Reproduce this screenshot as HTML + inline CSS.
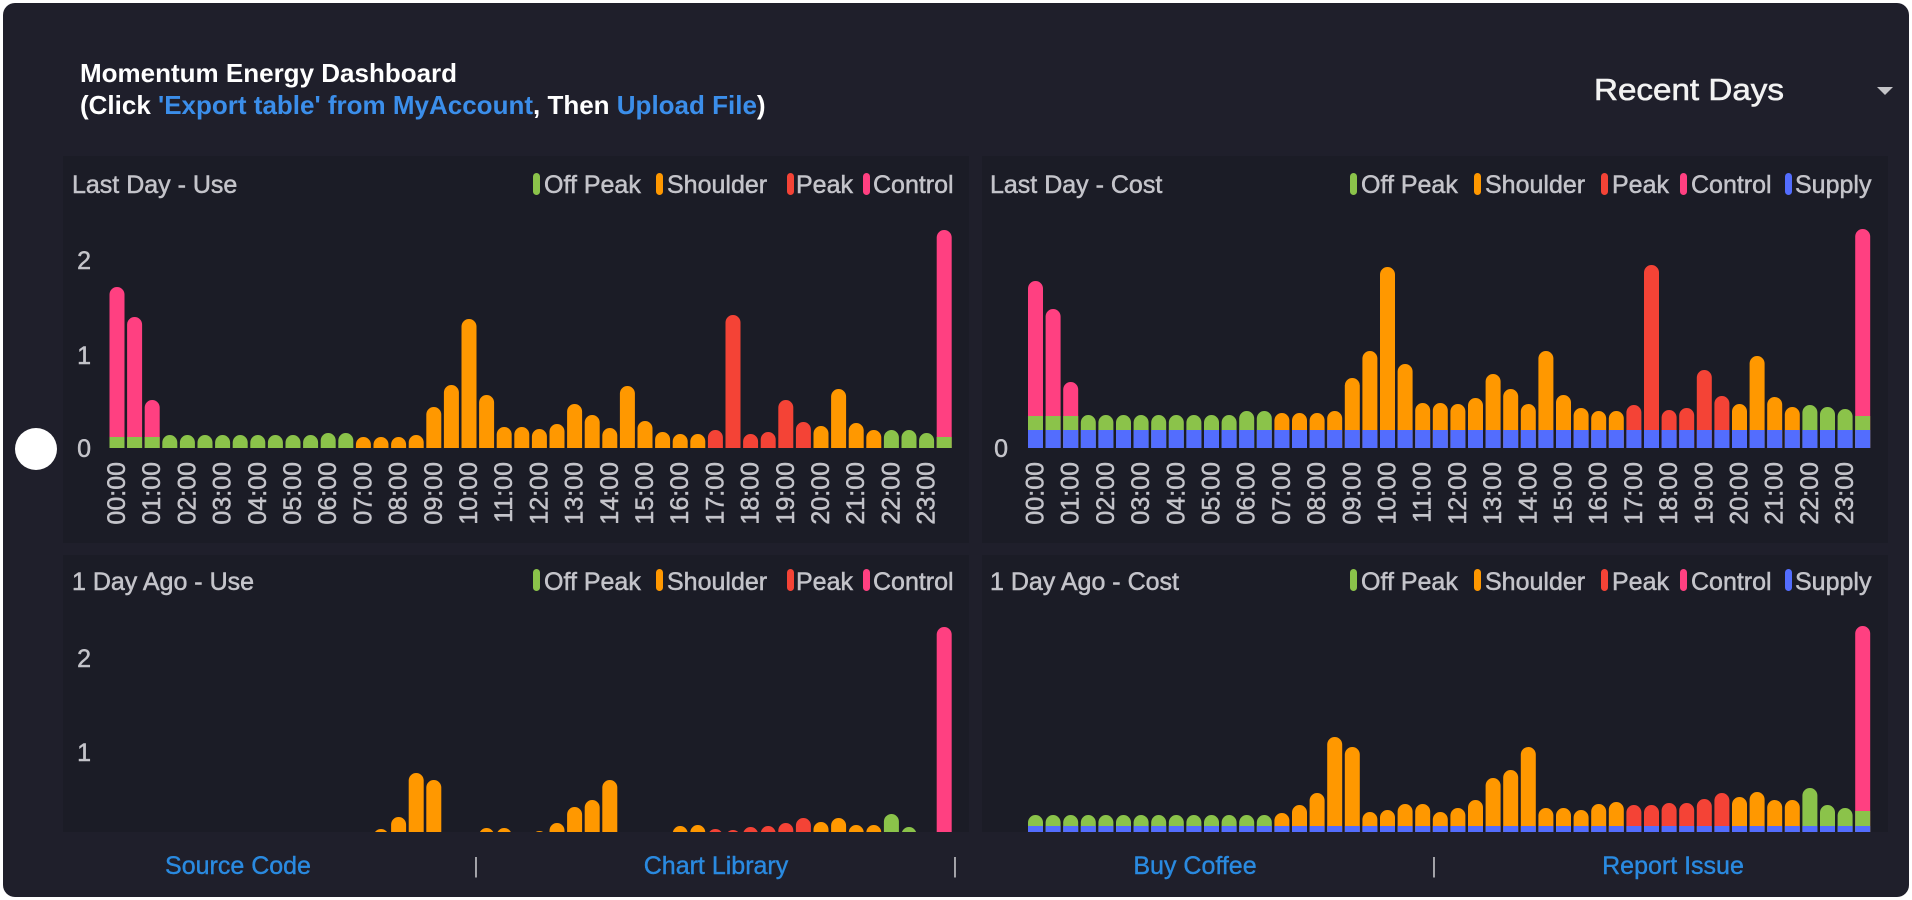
<!DOCTYPE html>
<html>
<head>
<meta charset="utf-8">
<style>
html,body{margin:0;padding:0;background:#fff;width:1912px;height:900px;overflow:hidden;}
svg{display:block;}
text{font-family:"Liberation Sans",Arial,sans-serif;}
.g{fill:#8bc34a}.o{fill:#ff9800}.r{fill:#f44336}.p{fill:#ff4081}.b{fill:#536dfe}
.lbl{font-size:25px;fill:#c4c4ca;stroke:#c4c4ca;stroke-width:0.5px;}
.xl text{font-size:25px;fill:#c4c4ca;stroke:#c4c4ca;stroke-width:0.5px;text-anchor:end;dominant-baseline:central;}
.ft{font-size:25px;fill:#2a8ae0;stroke:#2a8ae0;stroke-width:0.4px;text-anchor:middle;}
.sep{font-size:22px;fill:#b0b0b6;text-anchor:middle;}
</style>
</head>
<body>
<svg width="1912" height="900" viewBox="0 0 1912 900" xmlns="http://www.w3.org/2000/svg">
<defs>
<clipPath id="ct"><rect x="-20" y="-400" width="900" height="400"/></clipPath>
<clipPath id="cb"><rect x="-20" y="-400" width="900" height="386"/></clipPath>
</defs>
<rect x="0" y="0" width="1912" height="900" fill="#ffffff"/>
<rect x="3" y="3" width="1906" height="894" rx="12" fill="#1f1f2b"/>

<!-- header -->
<text x="80" y="82" font-size="26" font-weight="bold" fill="#ffffff">Momentum Energy Dashboard</text>
<text x="80" y="114" font-size="26" font-weight="bold" fill="#ffffff">(Click <tspan fill="#3b8eea">'Export table' from MyAccount</tspan>, Then <tspan fill="#3b8eea">Upload File</tspan>)</text>
<text x="1594" y="100" font-size="31" fill="#f2f2f2" stroke="#f2f2f2" stroke-width="0.6" textLength="190" lengthAdjust="spacingAndGlyphs">Recent Days</text>
<polygon points="1877,87 1893,87 1885,95" fill="#c4c4c8"/>

<!-- panels -->
<rect x="63" y="156" width="906" height="387" fill="#1b1c26"/>
<rect x="982" y="156" width="906" height="387" fill="#1b1c26"/>
<rect x="63" y="555" width="906" height="277" fill="#1b1c26"/>
<rect x="982" y="555" width="906" height="277" fill="#1b1c26"/>

<!-- panel titles -->
<text class="lbl" x="72" y="193">Last Day - Use</text>
<text class="lbl" x="990" y="193">Last Day - Cost</text>
<text class="lbl" x="72" y="590">1 Day Ago - Use</text>
<text class="lbl" x="990" y="590">1 Day Ago - Cost</text>

<!-- legends -->
<g>
<rect class="g" x="533" y="173" width="7" height="22" rx="3.5"/><text class="lbl" x="544" y="193">Off Peak</text>
<rect class="o" x="656" y="173" width="7" height="22" rx="3.5"/><text class="lbl" x="667" y="193">Shoulder</text>
<rect class="r" x="787" y="173" width="7" height="22" rx="3.5"/><text class="lbl" x="796" y="193">Peak</text>
<rect class="p" x="863" y="173" width="7" height="22" rx="3.5"/><text class="lbl" x="873" y="193">Control</text>
</g>
<g>
<rect class="g" x="1350" y="173" width="7" height="22" rx="3.5"/><text class="lbl" x="1361" y="193">Off Peak</text>
<rect class="o" x="1474" y="173" width="7" height="22" rx="3.5"/><text class="lbl" x="1485" y="193">Shoulder</text>
<rect class="r" x="1601" y="173" width="7" height="22" rx="3.5"/><text class="lbl" x="1612" y="193">Peak</text>
<rect class="p" x="1680" y="173" width="7" height="22" rx="3.5"/><text class="lbl" x="1691" y="193">Control</text>
<rect class="b" x="1785" y="173" width="7" height="22" rx="3.5"/><text class="lbl" x="1795" y="193">Supply</text>
</g>
<g>
<rect class="g" x="533" y="569" width="7" height="22" rx="3.5"/><text class="lbl" x="544" y="590">Off Peak</text>
<rect class="o" x="656" y="569" width="7" height="22" rx="3.5"/><text class="lbl" x="667" y="590">Shoulder</text>
<rect class="r" x="787" y="569" width="7" height="22" rx="3.5"/><text class="lbl" x="796" y="590">Peak</text>
<rect class="p" x="863" y="569" width="7" height="22" rx="3.5"/><text class="lbl" x="873" y="590">Control</text>
</g>
<g>
<rect class="g" x="1350" y="569" width="7" height="22" rx="3.5"/><text class="lbl" x="1361" y="590">Off Peak</text>
<rect class="o" x="1474" y="569" width="7" height="22" rx="3.5"/><text class="lbl" x="1485" y="590">Shoulder</text>
<rect class="r" x="1601" y="569" width="7" height="22" rx="3.5"/><text class="lbl" x="1612" y="590">Peak</text>
<rect class="p" x="1680" y="569" width="7" height="22" rx="3.5"/><text class="lbl" x="1691" y="590">Control</text>
<rect class="b" x="1785" y="569" width="7" height="22" rx="3.5"/><text class="lbl" x="1795" y="590">Supply</text>
</g>

<!-- y ticks -->
<text class="lbl" x="91" y="269" text-anchor="end">2</text>
<text class="lbl" x="91" y="364" text-anchor="end">1</text>
<text class="lbl" x="91" y="457" text-anchor="end">0</text>
<text class="lbl" x="1008" y="457" text-anchor="end">0</text>
<text class="lbl" x="91" y="667" text-anchor="end">2</text>
<text class="lbl" x="91" y="761" text-anchor="end">1</text>

<!-- TL bars -->
<g transform="translate(109.5,448)"><g clip-path="url(#ct)">
<rect class="p" x="0" y="-161" width="15" height="169" rx="7.5"/><rect class="g" x="0" y="-11" width="15" height="19"/>
<rect class="p" x="17.6" y="-131" width="15" height="139" rx="7.5"/><rect class="g" x="17.6" y="-11" width="15" height="19"/>
<rect class="p" x="35.2" y="-48" width="15" height="56" rx="7.5"/><rect class="g" x="35.2" y="-11" width="15" height="19"/>
<rect class="g" x="52.8" y="-13" width="15" height="21" rx="7.5"/>
<rect class="g" x="70.4" y="-13" width="15" height="21" rx="7.5"/>
<rect class="g" x="88" y="-13" width="15" height="21" rx="7.5"/>
<rect class="g" x="105.6" y="-13" width="15" height="21" rx="7.5"/>
<rect class="g" x="123.2" y="-13" width="15" height="21" rx="7.5"/>
<rect class="g" x="140.8" y="-13" width="15" height="21" rx="7.5"/>
<rect class="g" x="158.4" y="-13" width="15" height="21" rx="7.5"/>
<rect class="g" x="176" y="-13" width="15" height="21" rx="7.5"/>
<rect class="g" x="193.6" y="-13" width="15" height="21" rx="7.5"/>
<rect class="g" x="211.2" y="-15" width="15" height="23" rx="7.5"/>
<rect class="g" x="228.8" y="-15" width="15" height="23" rx="7.5"/>
<rect class="o" x="246.4" y="-11" width="15" height="19" rx="7.5"/>
<rect class="o" x="264" y="-11" width="15" height="19" rx="7.5"/>
<rect class="o" x="281.6" y="-11" width="15" height="19" rx="7.5"/>
<rect class="o" x="299.2" y="-13" width="15" height="21" rx="7.5"/>
<rect class="o" x="316.8" y="-41" width="15" height="49" rx="7.5"/>
<rect class="o" x="334.4" y="-63" width="15" height="71" rx="7.5"/>
<rect class="o" x="352" y="-129" width="15" height="137" rx="7.5"/>
<rect class="o" x="369.6" y="-53" width="15" height="61" rx="7.5"/>
<rect class="o" x="387.2" y="-21" width="15" height="29" rx="7.5"/>
<rect class="o" x="404.8" y="-21" width="15" height="29" rx="7.5"/>
<rect class="o" x="422.4" y="-19" width="15" height="27" rx="7.5"/>
<rect class="o" x="440" y="-24" width="15" height="32" rx="7.5"/>
<rect class="o" x="457.6" y="-44" width="15" height="52" rx="7.5"/>
<rect class="o" x="475.2" y="-33" width="15" height="41" rx="7.5"/>
<rect class="o" x="492.8" y="-20" width="15" height="28" rx="7.5"/>
<rect class="o" x="510.4" y="-62" width="15" height="70" rx="7.5"/>
<rect class="o" x="528" y="-27" width="15" height="35" rx="7.5"/>
<rect class="o" x="545.6" y="-16" width="15" height="24" rx="7.5"/>
<rect class="o" x="563.2" y="-14" width="15" height="22" rx="7.5"/>
<rect class="o" x="580.8" y="-14" width="15" height="22" rx="7.5"/>
<rect class="r" x="598.4" y="-18" width="15" height="26" rx="7.5"/>
<rect class="r" x="616" y="-133" width="15" height="141" rx="7.5"/>
<rect class="r" x="633.6" y="-14" width="15" height="22" rx="7.5"/>
<rect class="r" x="651.2" y="-16" width="15" height="24" rx="7.5"/>
<rect class="r" x="668.8" y="-48" width="15" height="56" rx="7.5"/>
<rect class="r" x="686.4" y="-26" width="15" height="34" rx="7.5"/>
<rect class="o" x="704" y="-22" width="15" height="30" rx="7.5"/>
<rect class="o" x="721.6" y="-59" width="15" height="67" rx="7.5"/>
<rect class="o" x="739.2" y="-25" width="15" height="33" rx="7.5"/>
<rect class="o" x="756.8" y="-18" width="15" height="26" rx="7.5"/>
<rect class="g" x="774.4" y="-18" width="15" height="26" rx="7.5"/>
<rect class="g" x="792" y="-18" width="15" height="26" rx="7.5"/>
<rect class="g" x="809.6" y="-15" width="15" height="23" rx="7.5"/>
<rect class="p" x="827.2" y="-218" width="15" height="226" rx="7.5"/><rect class="g" x="827.2" y="-11" width="15" height="19"/>
</g></g>

<!-- TR bars -->
<g transform="translate(1028,448)"><g clip-path="url(#ct)">
<rect class="p" x="0" y="-167" width="15" height="175" rx="7.5"/><rect class="g" x="0" y="-32" width="15" height="40"/>
<rect class="p" x="17.6" y="-139" width="15" height="147" rx="7.5"/><rect class="g" x="17.6" y="-32" width="15" height="40"/>
<rect class="p" x="35.2" y="-66" width="15" height="74" rx="7.5"/><rect class="g" x="35.2" y="-32" width="15" height="40"/>
<rect class="g" x="52.8" y="-33" width="15" height="41" rx="7.5"/>
<rect class="g" x="70.4" y="-33" width="15" height="41" rx="7.5"/>
<rect class="g" x="88" y="-33" width="15" height="41" rx="7.5"/>
<rect class="g" x="105.6" y="-33" width="15" height="41" rx="7.5"/>
<rect class="g" x="123.2" y="-33" width="15" height="41" rx="7.5"/>
<rect class="g" x="140.8" y="-33" width="15" height="41" rx="7.5"/>
<rect class="g" x="158.4" y="-33" width="15" height="41" rx="7.5"/>
<rect class="g" x="176" y="-33" width="15" height="41" rx="7.5"/>
<rect class="g" x="193.6" y="-33" width="15" height="41" rx="7.5"/>
<rect class="g" x="211.2" y="-37" width="15" height="45" rx="7.5"/>
<rect class="g" x="228.8" y="-37" width="15" height="45" rx="7.5"/>
<rect class="o" x="246.4" y="-35" width="15" height="43" rx="7.5"/>
<rect class="o" x="264" y="-35" width="15" height="43" rx="7.5"/>
<rect class="o" x="281.6" y="-35" width="15" height="43" rx="7.5"/>
<rect class="o" x="299.2" y="-37" width="15" height="45" rx="7.5"/>
<rect class="o" x="316.8" y="-70" width="15" height="78" rx="7.5"/>
<rect class="o" x="334.4" y="-97" width="15" height="105" rx="7.5"/>
<rect class="o" x="352" y="-181" width="15" height="189" rx="7.5"/>
<rect class="o" x="369.6" y="-84" width="15" height="92" rx="7.5"/>
<rect class="o" x="387.2" y="-45" width="15" height="53" rx="7.5"/>
<rect class="o" x="404.8" y="-45" width="15" height="53" rx="7.5"/>
<rect class="o" x="422.4" y="-44" width="15" height="52" rx="7.5"/>
<rect class="o" x="440" y="-50" width="15" height="58" rx="7.5"/>
<rect class="o" x="457.6" y="-74" width="15" height="82" rx="7.5"/>
<rect class="o" x="475.2" y="-59" width="15" height="67" rx="7.5"/>
<rect class="o" x="492.8" y="-44" width="15" height="52" rx="7.5"/>
<rect class="o" x="510.4" y="-97" width="15" height="105" rx="7.5"/>
<rect class="o" x="528" y="-53" width="15" height="61" rx="7.5"/>
<rect class="o" x="545.6" y="-40" width="15" height="48" rx="7.5"/>
<rect class="o" x="563.2" y="-37" width="15" height="45" rx="7.5"/>
<rect class="o" x="580.8" y="-37" width="15" height="45" rx="7.5"/>
<rect class="r" x="598.4" y="-43" width="15" height="51" rx="7.5"/>
<rect class="r" x="616" y="-183" width="15" height="191" rx="7.5"/>
<rect class="r" x="633.6" y="-38" width="15" height="46" rx="7.5"/>
<rect class="r" x="651.2" y="-40" width="15" height="48" rx="7.5"/>
<rect class="r" x="668.8" y="-78" width="15" height="86" rx="7.5"/>
<rect class="r" x="686.4" y="-52" width="15" height="60" rx="7.5"/>
<rect class="o" x="704" y="-44" width="15" height="52" rx="7.5"/>
<rect class="o" x="721.6" y="-92" width="15" height="100" rx="7.5"/>
<rect class="o" x="739.2" y="-51" width="15" height="59" rx="7.5"/>
<rect class="o" x="756.8" y="-41" width="15" height="49" rx="7.5"/>
<rect class="g" x="774.4" y="-43" width="15" height="51" rx="7.5"/>
<rect class="g" x="792" y="-41" width="15" height="49" rx="7.5"/>
<rect class="g" x="809.6" y="-39" width="15" height="47" rx="7.5"/>
<rect class="p" x="827.2" y="-219" width="15" height="227" rx="7.5"/><rect class="g" x="827.2" y="-32" width="15" height="40"/>
<line x1="0" y1="-9" x2="842.2" y2="-9" stroke="#536dfe" stroke-width="18" stroke-dasharray="15 2.6"/>
</g></g>

<!-- BL bars -->
<g transform="translate(109.5,846)"><g clip-path="url(#cb)">
<rect class="o" x="264" y="-17" width="15" height="25" rx="7.5"/>
<rect class="o" x="281.6" y="-29" width="15" height="37" rx="7.5"/>
<rect class="o" x="299.2" y="-73" width="15" height="81" rx="7.5"/>
<rect class="o" x="316.8" y="-66" width="15" height="74" rx="7.5"/>
<rect class="o" x="369.6" y="-18" width="15" height="26" rx="7.5"/>
<rect class="o" x="387.2" y="-18" width="15" height="26" rx="7.5"/>
<rect class="o" x="422.4" y="-15" width="15" height="23" rx="7.5"/>
<rect class="o" x="440" y="-23" width="15" height="31" rx="7.5"/>
<rect class="o" x="457.6" y="-39" width="15" height="47" rx="7.5"/>
<rect class="o" x="475.2" y="-46" width="15" height="54" rx="7.5"/>
<rect class="o" x="492.8" y="-66" width="15" height="74" rx="7.5"/>
<rect class="o" x="563.2" y="-20" width="15" height="28" rx="7.5"/>
<rect class="o" x="580.8" y="-21" width="15" height="29" rx="7.5"/>
<rect class="r" x="598.4" y="-17" width="15" height="25" rx="7.5"/>
<rect class="r" x="616" y="-16" width="15" height="24" rx="7.5"/>
<rect class="r" x="633.6" y="-19" width="15" height="27" rx="7.5"/>
<rect class="r" x="651.2" y="-20" width="15" height="28" rx="7.5"/>
<rect class="r" x="668.8" y="-23" width="15" height="31" rx="7.5"/>
<rect class="r" x="686.4" y="-28" width="15" height="36" rx="7.5"/>
<rect class="o" x="704" y="-24" width="15" height="32" rx="7.5"/>
<rect class="o" x="721.6" y="-28" width="15" height="36" rx="7.5"/>
<rect class="o" x="739.2" y="-21" width="15" height="29" rx="7.5"/>
<rect class="o" x="756.8" y="-21" width="15" height="29" rx="7.5"/>
<rect class="g" x="774.4" y="-32" width="15" height="40" rx="7.5"/>
<rect class="g" x="792" y="-19" width="15" height="27" rx="7.5"/>
<rect class="p" x="827.2" y="-219" width="15" height="227" rx="7.5"/>
</g></g>

<!-- BR bars -->
<g transform="translate(1028,846)"><g clip-path="url(#cb)">
<rect class="g" x="0" y="-31" width="15" height="39" rx="7.5"/>
<rect class="g" x="17.6" y="-31" width="15" height="39" rx="7.5"/>
<rect class="g" x="35.2" y="-31" width="15" height="39" rx="7.5"/>
<rect class="g" x="52.8" y="-31" width="15" height="39" rx="7.5"/>
<rect class="g" x="70.4" y="-31" width="15" height="39" rx="7.5"/>
<rect class="g" x="88" y="-31" width="15" height="39" rx="7.5"/>
<rect class="g" x="105.6" y="-31" width="15" height="39" rx="7.5"/>
<rect class="g" x="123.2" y="-31" width="15" height="39" rx="7.5"/>
<rect class="g" x="140.8" y="-31" width="15" height="39" rx="7.5"/>
<rect class="g" x="158.4" y="-31" width="15" height="39" rx="7.5"/>
<rect class="g" x="176" y="-31" width="15" height="39" rx="7.5"/>
<rect class="g" x="193.6" y="-31" width="15" height="39" rx="7.5"/>
<rect class="g" x="211.2" y="-31" width="15" height="39" rx="7.5"/>
<rect class="g" x="228.8" y="-31" width="15" height="39" rx="7.5"/>
<rect class="o" x="246.4" y="-33" width="15" height="41" rx="7.5"/>
<rect class="o" x="264" y="-41" width="15" height="49" rx="7.5"/>
<rect class="o" x="281.6" y="-53" width="15" height="61" rx="7.5"/>
<rect class="o" x="299.2" y="-109" width="15" height="117" rx="7.5"/>
<rect class="o" x="316.8" y="-99" width="15" height="107" rx="7.5"/>
<rect class="o" x="334.4" y="-34" width="15" height="42" rx="7.5"/>
<rect class="o" x="352" y="-36" width="15" height="44" rx="7.5"/>
<rect class="o" x="369.6" y="-42" width="15" height="50" rx="7.5"/>
<rect class="o" x="387.2" y="-42" width="15" height="50" rx="7.5"/>
<rect class="o" x="404.8" y="-34" width="15" height="42" rx="7.5"/>
<rect class="o" x="422.4" y="-38" width="15" height="46" rx="7.5"/>
<rect class="o" x="440" y="-46" width="15" height="54" rx="7.5"/>
<rect class="o" x="457.6" y="-68" width="15" height="76" rx="7.5"/>
<rect class="o" x="475.2" y="-76" width="15" height="84" rx="7.5"/>
<rect class="o" x="492.8" y="-99" width="15" height="107" rx="7.5"/>
<rect class="o" x="510.4" y="-38" width="15" height="46" rx="7.5"/>
<rect class="o" x="528" y="-38" width="15" height="46" rx="7.5"/>
<rect class="o" x="545.6" y="-36" width="15" height="44" rx="7.5"/>
<rect class="o" x="563.2" y="-42" width="15" height="50" rx="7.5"/>
<rect class="o" x="580.8" y="-44" width="15" height="52" rx="7.5"/>
<rect class="r" x="598.4" y="-41" width="15" height="49" rx="7.5"/>
<rect class="r" x="616" y="-41" width="15" height="49" rx="7.5"/>
<rect class="r" x="633.6" y="-43" width="15" height="51" rx="7.5"/>
<rect class="r" x="651.2" y="-43" width="15" height="51" rx="7.5"/>
<rect class="r" x="668.8" y="-47" width="15" height="55" rx="7.5"/>
<rect class="r" x="686.4" y="-53" width="15" height="61" rx="7.5"/>
<rect class="o" x="704" y="-49" width="15" height="57" rx="7.5"/>
<rect class="o" x="721.6" y="-54" width="15" height="62" rx="7.5"/>
<rect class="o" x="739.2" y="-46" width="15" height="54" rx="7.5"/>
<rect class="o" x="756.8" y="-46" width="15" height="54" rx="7.5"/>
<rect class="g" x="774.4" y="-58" width="15" height="66" rx="7.5"/>
<rect class="g" x="792" y="-41" width="15" height="49" rx="7.5"/>
<rect class="g" x="809.6" y="-38" width="15" height="46" rx="7.5"/>
<rect class="p" x="827.2" y="-220" width="15" height="228" rx="7.5"/><rect class="g" x="827.2" y="-35" width="15" height="43"/>
<line x1="0" y1="-10" x2="842.2" y2="-10" stroke="#536dfe" stroke-width="20" stroke-dasharray="15 2.6"/>
</g></g>

<!-- x labels top-left -->
<g class="xl" transform="translate(117,462)">
<text transform="translate(0,0) rotate(-90)">00:00</text>
<text transform="translate(35.2,0) rotate(-90)">01:00</text>
<text transform="translate(70.4,0) rotate(-90)">02:00</text>
<text transform="translate(105.6,0) rotate(-90)">03:00</text>
<text transform="translate(140.8,0) rotate(-90)">04:00</text>
<text transform="translate(176,0) rotate(-90)">05:00</text>
<text transform="translate(211.2,0) rotate(-90)">06:00</text>
<text transform="translate(246.4,0) rotate(-90)">07:00</text>
<text transform="translate(281.6,0) rotate(-90)">08:00</text>
<text transform="translate(316.8,0) rotate(-90)">09:00</text>
<text transform="translate(352,0) rotate(-90)">10:00</text>
<text transform="translate(387.2,0) rotate(-90)">11:00</text>
<text transform="translate(422.4,0) rotate(-90)">12:00</text>
<text transform="translate(457.6,0) rotate(-90)">13:00</text>
<text transform="translate(492.8,0) rotate(-90)">14:00</text>
<text transform="translate(528,0) rotate(-90)">15:00</text>
<text transform="translate(563.2,0) rotate(-90)">16:00</text>
<text transform="translate(598.4,0) rotate(-90)">17:00</text>
<text transform="translate(633.6,0) rotate(-90)">18:00</text>
<text transform="translate(668.8,0) rotate(-90)">19:00</text>
<text transform="translate(704,0) rotate(-90)">20:00</text>
<text transform="translate(739.2,0) rotate(-90)">21:00</text>
<text transform="translate(774.4,0) rotate(-90)">22:00</text>
<text transform="translate(809.6,0) rotate(-90)">23:00</text>
</g>
<!-- x labels top-right -->
<g class="xl" transform="translate(1035.5,462)">
<text transform="translate(0,0) rotate(-90)">00:00</text>
<text transform="translate(35.2,0) rotate(-90)">01:00</text>
<text transform="translate(70.4,0) rotate(-90)">02:00</text>
<text transform="translate(105.6,0) rotate(-90)">03:00</text>
<text transform="translate(140.8,0) rotate(-90)">04:00</text>
<text transform="translate(176,0) rotate(-90)">05:00</text>
<text transform="translate(211.2,0) rotate(-90)">06:00</text>
<text transform="translate(246.4,0) rotate(-90)">07:00</text>
<text transform="translate(281.6,0) rotate(-90)">08:00</text>
<text transform="translate(316.8,0) rotate(-90)">09:00</text>
<text transform="translate(352,0) rotate(-90)">10:00</text>
<text transform="translate(387.2,0) rotate(-90)">11:00</text>
<text transform="translate(422.4,0) rotate(-90)">12:00</text>
<text transform="translate(457.6,0) rotate(-90)">13:00</text>
<text transform="translate(492.8,0) rotate(-90)">14:00</text>
<text transform="translate(528,0) rotate(-90)">15:00</text>
<text transform="translate(563.2,0) rotate(-90)">16:00</text>
<text transform="translate(598.4,0) rotate(-90)">17:00</text>
<text transform="translate(633.6,0) rotate(-90)">18:00</text>
<text transform="translate(668.8,0) rotate(-90)">19:00</text>
<text transform="translate(704,0) rotate(-90)">20:00</text>
<text transform="translate(739.2,0) rotate(-90)">21:00</text>
<text transform="translate(774.4,0) rotate(-90)">22:00</text>
<text transform="translate(809.6,0) rotate(-90)">23:00</text>
</g>

<!-- footer -->
<text class="ft" x="238" y="874">Source Code</text>
<text class="sep" x="476" y="873">|</text>
<text class="ft" x="716" y="874">Chart Library</text>
<text class="sep" x="955" y="873">|</text>
<text class="ft" x="1195" y="874">Buy Coffee</text>
<text class="sep" x="1434" y="873">|</text>
<text class="ft" x="1673" y="874">Report Issue</text>

<!-- white circle -->
<circle cx="36" cy="449" r="21" fill="#ffffff"/>
</svg>
</body>
</html>
